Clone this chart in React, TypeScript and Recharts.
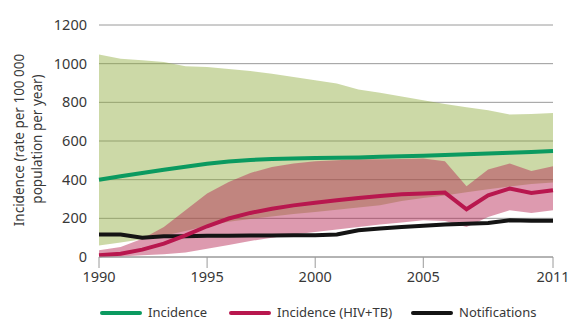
import React from "react";
import {
  ComposedChart,
  Area,
  Line,
  XAxis,
  YAxis,
  CartesianGrid,
} from "recharts";

const years = [1990, 1991, 1992, 1993, 1994, 1995, 1996, 1997, 1998, 1999, 2000, 2001, 2002, 2003, 2004, 2005, 2006, 2007, 2008, 2009, 2010, 2011];
const incidence = [400, 418, 435, 451, 467, 482, 494, 502, 507, 510, 512, 513, 515, 518, 521, 524, 527, 531, 535, 539, 543, 548];
const incidenceLow = [60, 75, 92, 110, 135, 162, 182, 197, 210, 222, 233, 245, 256, 268, 290, 305, 318, 335, 350, 365, 378, 385];
const incidenceHigh = [1047, 1026, 1018, 1009, 987, 983, 973, 962, 948, 931, 914, 897, 866, 850, 830, 811, 792, 775, 759, 737, 740, 745];
const hivTb = [9, 17, 38, 69, 112, 159, 199, 228, 250, 267, 281, 293, 305, 316, 324, 329, 333, 247, 319, 354, 331, 345];
const hivTbLow = [0, 3, 9, 14, 23, 43, 62, 83, 100, 116, 129, 142, 155, 168, 178, 190, 186, 155, 207, 242, 228, 242];
const hivTbHigh = [35, 52, 95, 155, 242, 328, 388, 435, 466, 483, 495, 500, 505, 505, 507, 510, 495, 366, 452, 483, 445, 469];
const notifications = [116, 116, 100, 107, 107, 110, 110, 111, 111, 112, 113, 116, 138, 148, 155, 162, 168, 172, 176, 190, 187, 187];

const yTicks = [0, 200, 400, 600, 800, 1000, 1200];
const xTicks = [1990, 1995, 2000, 2005, 2011];
const yLabelLines = ["Incidence (rate per 100 000", "population per year)"];
const legendItems = [
  { name: "Incidence", color: "#0b9a60" },
  { name: "Incidence (HIV+TB)", color: "#b8174e" },
  { name: "Notifications", color: "#141414" },
];

const data = years.map((year, i) => ({
  year,
  incidence: incidence[i],
  incBand: [incidenceLow[i], incidenceHigh[i]],
  hivTb: hivTb[i],
  hivBand: [hivTbLow[i], hivTbHigh[i]],
  notifications: notifications[i],
}));

const FONT = "'Noto Sans', sans-serif";
const TEXT = "#383838";

const YLabel = () => (
  <g>
    <text
      x={24}
      y={140}
      transform="rotate(-90, 24, 140)"
      textAnchor="middle"
      fontSize={13.5}
      fontFamily={FONT}
      fill={TEXT}
    >
      {yLabelLines[0]}
    </text>
    <text
      x={42}
      y={139}
      transform="rotate(-90, 42, 139)"
      textAnchor="middle"
      fontSize={13.5}
      fontFamily={FONT}
      fill={TEXT}
    >
      {yLabelLines[1]}
    </text>
  </g>
);

export default function App() {
  return (
    <div style={{ position: "absolute", left: 0, top: 0, width: 571, height: 320 }}>
      <ComposedChart
        width={571}
        height={320}
        data={data}
        margin={{ top: 25, right: 18, left: 0, bottom: 0 }}
      >
        <CartesianGrid vertical={false} stroke="#9a9a9a" strokeWidth={1} />
        <XAxis
          dataKey="year"
          type="number"
          domain={[1990, 2011]}
          ticks={xTicks}
          height={63}
          axisLine={{ stroke: "#9a9a9a" }}
          tickLine={{ stroke: "#9a9a9a" }}
          tickSize={11}
          tickMargin={4}
          tick={{ fontSize: 14.5, fontFamily: FONT, fill: TEXT }}
          interval={0}
        />
        <YAxis
          domain={[0, 1200]}
          ticks={yTicks}
          width={99}
          axisLine={false}
          tickLine={false}
          tickSize={0}
          tickMargin={12}
          tick={{ fontSize: 14.5, fontFamily: FONT, fill: TEXT }}
          interval={0}
          label={{ content: () => <YLabel /> }}
        />
        <Area
          dataKey="incBand"
          type="linear"
          stroke="none"
          fill="#8fab3c"
          fillOpacity={0.45}
          isAnimationActive={false}
        />
        <Area
          dataKey="hivBand"
          type="linear"
          stroke="none"
          fill="#b52350"
          fillOpacity={0.46}
          isAnimationActive={false}
        />
        <Line
          dataKey="incidence"
          type="linear"
          stroke="#0b9a60"
          strokeWidth={4}
          dot={false}
          isAnimationActive={false}
        />
        <Line
          dataKey="notifications"
          type="linear"
          stroke="#141414"
          strokeWidth={4}
          dot={false}
          isAnimationActive={false}
        />
        <Line
          dataKey="hivTb"
          type="linear"
          stroke="#b8174e"
          strokeWidth={4}
          dot={false}
          isAnimationActive={false}
        />
      </ComposedChart>
      <div
        style={{
          position: "absolute",
          left: 100,
          top: 305,
          height: 15,
          display: "flex",
          alignItems: "center",
          fontFamily: FONT,
          fontSize: 13,
          lineHeight: "15px",
          color: TEXT,
          whiteSpace: "nowrap",
        }}
      >
        {legendItems.map((it, i) => (
          <div
            key={it.name}
            style={{ display: "flex", alignItems: "center", marginRight: i === 0 ? 22 : 19 }}
          >
            <span
              style={{
                display: "inline-block",
                width: 42,
                height: 4,
                borderRadius: 2,
                background: it.color,
                marginRight: 6,
              }}
            />
            <span>{it.name}</span>
          </div>
        ))}
      </div>
    </div>
  );
}
